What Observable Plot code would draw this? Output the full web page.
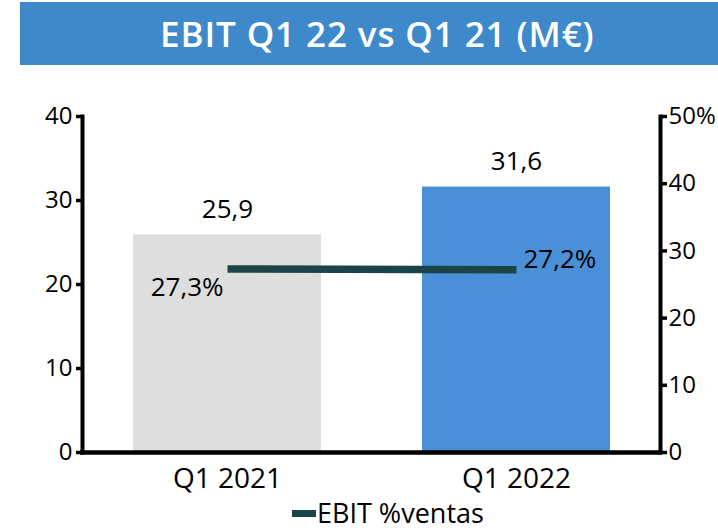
<!DOCTYPE html>
<html>
<head>
<meta charset="utf-8">
<script src="https://cdn.jsdelivr.net/npm/d3@7"></script>
<script src="https://cdn.jsdelivr.net/npm/@observablehq/plot@0.6"></script>
<style>
  html, body { margin: 0; padding: 0; background: #ffffff; }
  #wrap { position: relative; width: 718px; height: 530px; font-family: "Open Sans", sans-serif; }
  #banner { position: absolute; left: 20px; top: 2px; width: 698px; height: 63px; background: #3E89C9; }
  #title { position: absolute; left: 160px; top: 16px; height: 35px; line-height: 35px; font-size: 35px; font-weight: 600; color: #ffffff; letter-spacing: 0.9px; white-space: nowrap; }
  #chart { position: absolute; left: 0; top: 66px; }
  #legend { position: absolute; left: 292px; top: 499px; height: 27px; line-height: 27px; font-size: 27px; color: #000; white-space: nowrap; }
  #legend .sw { display: inline-block; width: 24px; height: 7px; background: #1B4446; vertical-align: top; margin-top: 11px; margin-right: 1px; }
</style>
</head>
<body>
<div id="wrap">
  <div id="banner"></div>
  <div id="title"></div>
  <div id="chart"></div>
  <div id="legend"><span class="sw"></span><span id="legendText"></span></div>
</div>
<script>
// ---- data ----
const titleText = "EBIT Q1 22 vs Q1 21 (M€)";
const categories = ["Q1 2021", "Q1 2022"];
const ebitValues = [25.9, 31.6];
const ebitPctValues = [27.3, 27.2];
const barColors = ["#DEDEDE", "#4A90D9"];
const lineColor = "#1B4446";
const leftTicks = [0, 10, 20, 30, 40];
const rightTicks = [0, 10, 20, 30, 40, 50];
const rightTickLabels = ["0", "10", "20", "30", "40", "50%"];
const legendLabel = "EBIT %ventas";

// ---- derived tables ----
const leftMax = 40, rightMax = 50;
const toLeft = v => v * leftMax / rightMax;
const fmt = d => d3.format(".1f")(d).replace(".", ",");
const bars = categories.map((c, i) => ({cat: c, value: ebitValues[i]}));
const pcts = categories.map((c, i) => ({cat: c, pct: ebitPctValues[i], y: toLeft(ebitPctValues[i])}));
const rightMap = new Map(rightTicks.map((t, i) => [toLeft(t), rightTickLabels[i]]));

document.getElementById("title").textContent = titleText;
document.getElementById("legendText").textContent = legendLabel;

const font = "Open Sans";
const chart = Plot.plot({
  width: 718,
  height: 430,
  marginLeft: 82,
  marginRight: 58,
  marginTop: 50,
  marginBottom: 44,
  style: {fontFamily: font, background: "transparent", overflow: "visible", color: "#000"},
  x: {domain: categories, paddingInner: 0.35, paddingOuter: 0.175, axis: null},
  y: {domain: [0, leftMax], axis: null},
  color: {domain: categories, range: barColors},
  marks: [
    Plot.barY(bars, {x: "cat", y: "value", fill: "cat"}),
    Plot.axisY({anchor: "left", ticks: leftTicks, tickSize: 6, tickPadding: 4, fontSize: 24, strokeWidth: 3.5, label: null, fill: "#000", stroke: "#000"}),
    Plot.axisY({anchor: "right", ticks: rightTicks.map(toLeft), tickFormat: d => rightMap.get(d), tickSize: 6, tickPadding: 2, fontSize: 24, strokeWidth: 3.5, label: null, fill: "#000", stroke: "#000"}),
    Plot.axisX({tickSize: 0, tickPadding: 16, fontSize: 28, label: null, fill: "#000"}),
    Plot.frame({anchor: "left", strokeWidth: 4, stroke: "#000"}),
    Plot.frame({anchor: "right", strokeWidth: 4, stroke: "#000"}),
    Plot.ruleY([0], {strokeWidth: 4.5, stroke: "#000", insetLeft: -2, insetRight: -2}),
    Plot.text(bars, {x: "cat", y: "value", text: d => fmt(d.value), dy: -25, fontSize: 26, fill: "#000"}),
    Plot.lineY(pcts, {x: "cat", y: "y", stroke: lineColor, strokeWidth: 7.5, strokeLinecap: "butt"}),
    Plot.text(pcts.slice(0, 1), {x: "cat", y: "y", text: d => fmt(d.pct) + "%", textAnchor: "end", dx: -4, dy: 19, fontSize: 26, fill: "#000"}),
    Plot.text(pcts.slice(1), {x: "cat", y: "y", text: d => fmt(d.pct) + "%", textAnchor: "start", dx: 7, dy: -10, fontSize: 26, fill: "#000"})
  ]
});
document.getElementById("chart").appendChild(chart);
</script>
</body>
</html>
